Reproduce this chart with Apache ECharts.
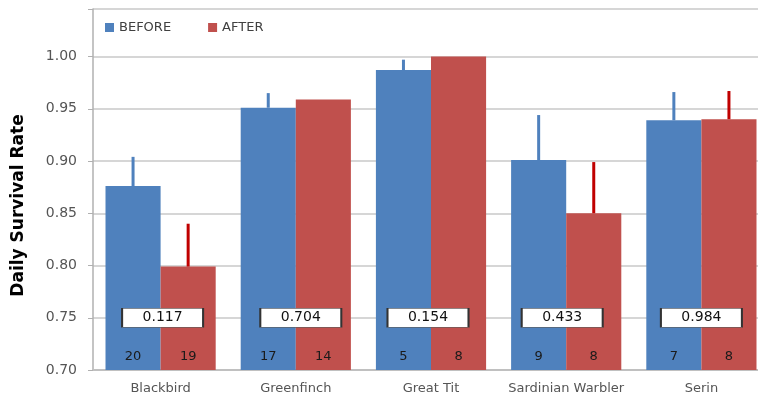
<!DOCTYPE html>
<html>
<head>
<meta charset="utf-8">
<script src="https://cdn.jsdelivr.net/npm/echarts@6/dist/echarts.min.js"></script>
<style>html,body{margin:0;padding:0;background:#fff;overflow:hidden;width:758px;height:400px}#c{width:770px;height:400px}</style>
</head>
<body>
<div id="c"></div>
<script>
// ---- data ----
var species = ['Blackbird', 'Greenfinch', 'Great Tit', 'Sardinian Warbler', 'Serin'];
var before = [0.876, 0.951, 0.987, 0.901, 0.939];
var after = [0.799, 0.959, 1.000, 0.850, 0.940];
var beforeErrTop = [0.904, 0.965, 0.997, 0.944, 0.966];
var afterErrTop = [0.840, null, null, 0.899, 0.967];
var beforeN = [20, 17, 5, 9, 7];
var afterN = [19, 14, 8, 8, 8];
var pValues = ['0.117', '0.704', '0.154', '0.433', '0.984'];
var yTicks = [0.70, 0.75, 0.80, 0.85, 0.90, 0.95, 1.00];

// ---- styling ----
var FONT = 'DejaVu Sans';
var BLUE = '#4F81BD', RED = '#C0504D', RED_ERR = '#C00000';
var GAP = 0.185;
var pBoxShift = [2, 5, -3, -4, 0];

function errSeries(name, tops, vals, side, color) {
  var data = [];
  for (var i = 0; i < tops.length; i++) {
    if (tops[i] != null) data.push([i, vals[i], tops[i]]);
  }
  return {
    type: 'custom', name: name + ' err', z: 5, silent: true,
    data: data,
    encode: { x: 0, y: [1, 2] },
    renderItem: function (params, api) {
      var band = api.size([1, 0])[0];
      var bw = band * (1 - GAP) / 2;
      var c0 = api.coord([api.value(0), api.value(1)]);
      var c1 = api.coord([api.value(0), api.value(2)]);
      var x = c0[0] + side * bw / 2;
      return {
        type: 'line',
        shape: { x1: x, y1: c0[1], x2: x, y2: c1[1] },
        style: { stroke: color, lineWidth: 3 }
      };
    }
  };
}

var chart = echarts.init(document.getElementById('c'), null, { renderer: 'canvas' });
var countLabel = function (arr) {
  return {
    show: true, position: 'insideBottom', distance: 7,
    color: '#1a1a1a', fontFamily: FONT, fontSize: 13,
    formatter: function (p) { return String(arr[p.dataIndex]); }
  };
};

chart.setOption({
  animation: false,
  textStyle: { fontFamily: FONT },
  grid: { left: 93, top: 9, bottom: 30, right: 1 },
  legend: {
    data: ['BEFORE', 'AFTER'],
    left: 105, top: 21, padding: 0,
    icon: 'rect', itemWidth: 9, itemHeight: 9, itemGap: 37,
    textStyle: { fontFamily: FONT, fontSize: 13, color: '#404040' }
  },
  xAxis: {
    type: 'category', data: species,
    axisLine: { lineStyle: { color: '#c0c0c0', width: 2 } },
    axisTick: { show: false },
    axisLabel: { interval: 0, fontFamily: FONT, fontSize: 13, color: '#555', margin: 12 },
    splitLine: { show: false }
  },
  yAxis: {
    type: 'value', min: 0.70, max: 1.0455, interval: 0.05,
    name: 'Daily Survival Rate', nameLocation: 'middle', nameGap: 66,
    nameTextStyle: { fontFamily: FONT, fontWeight: 'bold', fontSize: 17, color: '#000', padding: [0, 32, 0, 0] },
    axisLine: { show: true, lineStyle: { color: '#b0b0b0', width: 1.5 } },
    axisTick: { show: true, length: 5, lineStyle: { color: '#b0b0b0' } },
    axisLabel: {
      fontFamily: FONT, fontSize: 14, color: '#555', margin: 16,
      formatter: function (v) {
        for (var i = 0; i < yTicks.length; i++) if (Math.abs(yTicks[i] - v) < 1e-6) return yTicks[i].toFixed(2);
        return '';
      }
    },
    splitLine: { lineStyle: { color: '#c8c8c8', width: 1.5 } }
  },
  series: [
    {
      name: 'BEFORE', type: 'bar', data: before, barGap: '0%', barCategoryGap: (GAP * 100) + '%',
      itemStyle: { color: BLUE }, label: countLabel(beforeN), z: 2
    },
    {
      name: 'AFTER', type: 'bar', data: after, barGap: '0%', barCategoryGap: (GAP * 100) + '%',
      itemStyle: { color: RED }, label: countLabel(afterN), z: 2
    },
    errSeries('BEFORE', beforeErrTop, before, -1, BLUE),
    errSeries('AFTER', afterErrTop, after, 1, RED_ERR),
    {
      name: 'p', type: 'scatter', z: 10, silent: true,
      symbol: 'rect', symbolSize: [81, 19],
      data: pValues.map(function (p, i) {
        return { value: [i, 0.75], symbolOffset: [pBoxShift[i], 0] };
      }),
      itemStyle: { color: '#fff', borderColor: '#333', borderWidth: 1, opacity: 1 },
      label: {
        show: true, position: 'inside',
        color: '#111', fontFamily: FONT, fontSize: 14,
        formatter: function (p) { return pValues[p.dataIndex]; }
      }
    }
  ]
});
</script>
</body>
</html>
